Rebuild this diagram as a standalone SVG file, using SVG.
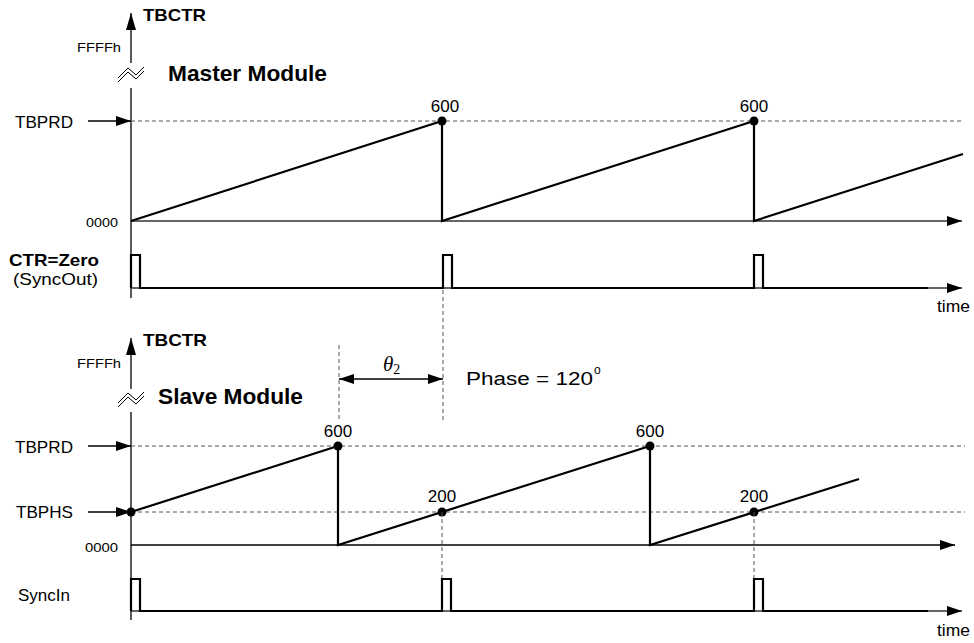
<svg xmlns="http://www.w3.org/2000/svg" width="974" height="643" viewBox="0 0 974 643">
<defs>
<marker id="ah" markerWidth="16" markerHeight="10" refX="15" refY="5" orient="auto" markerUnits="userSpaceOnUse">
<path d="M0,0 L15,5 L0,10 Z" fill="#000"/>
</marker>
<marker id="ahs" markerWidth="16" markerHeight="10" refX="0" refY="5" orient="auto" markerUnits="userSpaceOnUse">
<path d="M15,0 L0,5 L15,10 Z" fill="#000"/>
</marker>
<marker id="up" markerWidth="10" markerHeight="18" refX="5" refY="0" orient="0" markerUnits="userSpaceOnUse">
<path d="M0,17 L5,0 L10,17 Z" fill="#000"/>
</marker>
</defs>
<style>
text{font-family:"Liberation Sans",Arial,sans-serif;fill:#000}
.b{font-weight:bold}
.ax{stroke:#000;stroke-width:1.3;fill:none}
.ax2{stroke:#333;stroke-width:1.3;fill:none}
.th{stroke:#000;stroke-width:2.2;fill:none;stroke-linejoin:miter}
.da{stroke:#555;stroke-width:1;stroke-dasharray:4,3;fill:none}
.brk{stroke:#000;stroke-width:1;fill:none}
.dot{fill:#000}
</style>
<rect width="974" height="643" fill="#fff"/>

<g id="master">
  <g id="master-axis">
    <line class="ax" x1="131" y1="63" x2="131" y2="13" marker-end="url(#up)"/>
    <line class="ax" x1="131" y1="88" x2="131" y2="298"/>
    <polyline class="brk" points="118,78 128,68 136,75 144,67"/>
    <polyline class="brk" points="118,82 128,72 136,79 144,71"/>
    <text class="b" x="143" y="21" font-size="17" textLength="63" lengthAdjust="spacingAndGlyphs">TBCTR</text>
    <text x="77" y="52" font-size="12.5" textLength="44" lengthAdjust="spacingAndGlyphs">FFFFh</text>
    <text class="b" x="168" y="81" font-size="22.5" textLength="159" lengthAdjust="spacingAndGlyphs">Master Module</text>
  </g>
  <g id="master-tbprd">
    <text x="15" y="128" font-size="17" textLength="58" lengthAdjust="spacingAndGlyphs">TBPRD</text>
    <line class="ax" x1="88" y1="121" x2="131" y2="121" marker-end="url(#ah)"/>
    <line class="da" x1="131" y1="121" x2="963" y2="121"/>
  </g>
  <g id="master-zero">
    <text x="86" y="227" font-size="13.5" textLength="32" lengthAdjust="spacingAndGlyphs">0000</text>
    <line class="ax2" x1="131" y1="221" x2="962" y2="221" marker-end="url(#ah)"/>
  </g>
  <g id="master-ramp">
    <polyline class="th" points="131,221 442,121 442,221 754,121 754,221 963,154"/>
    <circle class="dot" cx="442" cy="121" r="4.5"/>
    <circle class="dot" cx="754" cy="121" r="4.5"/>
    <text x="445" y="112" font-size="17" text-anchor="middle">600</text>
    <text x="754" y="112" font-size="17" text-anchor="middle">600</text>
  </g>
  <g id="master-syncout">
    <text class="b" x="9" y="266" font-size="16.5" textLength="90" lengthAdjust="spacingAndGlyphs">CTR=Zero</text>
    <text x="13" y="285" font-size="17" textLength="85" lengthAdjust="spacingAndGlyphs">(SyncOut)</text>
    <line class="ax2" x1="131" y1="288" x2="962" y2="288" marker-end="url(#ah)"/>
    <polyline class="th" points="131,288 131,255 140,255 140,288 443,288 443,255 452,255 452,288 754,288 754,255 763,255 763,288 928,288"/>
    <text x="937" y="312" font-size="17" textLength="33" lengthAdjust="spacingAndGlyphs">time</text>
  </g>
</g>

<g id="phase">
  <line class="da" x1="443" y1="290" x2="443" y2="420"/>
  <line class="da" x1="339" y1="345" x2="339" y2="420"/>
  <line class="ax" x1="339" y1="379" x2="443" y2="379" marker-start="url(#ahs)" marker-end="url(#ah)"/>
  <text x="383" y="371" font-family="'Liberation Serif',serif" font-style="italic" font-size="21" style="font-family:'Liberation Serif',serif">θ<tspan font-size="14" font-style="normal" dy="3">2</tspan></text>
  <text x="466" y="385" font-size="18" textLength="127" lengthAdjust="spacingAndGlyphs">Phase = 120</text>
  <text x="594" y="374" font-size="12">o</text>
</g>

<g id="slave">
  <g id="slave-axis">
    <line class="ax" x1="131" y1="389" x2="131" y2="338" marker-end="url(#up)"/>
    <line class="ax" x1="131" y1="412" x2="131" y2="620"/>
    <polyline class="brk" points="118,403 128,393 136,400 144,392"/>
    <polyline class="brk" points="118,407 128,397 136,404 144,396"/>
    <text class="b" x="143" y="346" font-size="17" textLength="64" lengthAdjust="spacingAndGlyphs">TBCTR</text>
    <text x="77" y="368" font-size="12.5" textLength="44" lengthAdjust="spacingAndGlyphs">FFFFh</text>
    <text class="b" x="158" y="404" font-size="22.5" textLength="145" lengthAdjust="spacingAndGlyphs">Slave Module</text>
  </g>
  <g id="slave-tbprd">
    <text x="15" y="453" font-size="17" textLength="58" lengthAdjust="spacingAndGlyphs">TBPRD</text>
    <line class="ax" x1="88" y1="446" x2="131" y2="446" marker-end="url(#ah)"/>
    <line class="da" x1="131" y1="446" x2="965" y2="446"/>
  </g>
  <g id="slave-tbphs">
    <text x="16" y="518" font-size="17" textLength="57" lengthAdjust="spacingAndGlyphs">TBPHS</text>
    <line class="ax" x1="88" y1="512" x2="131" y2="512" marker-end="url(#ah)"/>
    <line class="da" x1="131" y1="512" x2="965" y2="512"/>
  </g>
  <g id="slave-zero">
    <text x="85" y="552" font-size="13.5" textLength="33" lengthAdjust="spacingAndGlyphs">0000</text>
    <line class="ax" x1="131" y1="545" x2="955" y2="545" marker-end="url(#ah)"/>
  </g>
  <g id="slave-ramp">
    <polyline class="th" points="131,512 338,446 338,545 650,446 650,545 859,479"/>
    <circle class="dot" cx="131" cy="512" r="4.5"/>
    <circle class="dot" cx="338" cy="446" r="4.5"/>
    <circle class="dot" cx="650" cy="446" r="4.5"/>
    <circle class="dot" cx="442" cy="512" r="4.5"/>
    <circle class="dot" cx="754" cy="512" r="4.5"/>
    <text x="338" y="437" font-size="17" text-anchor="middle">600</text>
    <text x="650" y="437" font-size="17" text-anchor="middle">600</text>
    <text x="442" y="502" font-size="17" text-anchor="middle">200</text>
    <text x="754" y="502" font-size="17" text-anchor="middle">200</text>
    <line class="da" x1="442" y1="512" x2="442" y2="579"/>
    <line class="da" x1="754" y1="512" x2="754" y2="579"/>
  </g>
  <g id="slave-syncin">
    <text x="18" y="601" font-size="17" textLength="52" lengthAdjust="spacingAndGlyphs">SyncIn</text>
    <line class="ax2" x1="131" y1="611" x2="962" y2="611" marker-end="url(#ah)"/>
    <polyline class="th" points="131,611 131,579 140,579 140,611 442,611 442,579 451,579 451,611 754,611 754,579 763,579 763,611 928,611"/>
    <text x="937" y="636" font-size="17" textLength="33" lengthAdjust="spacingAndGlyphs">time</text>
  </g>
</g>
</svg>
